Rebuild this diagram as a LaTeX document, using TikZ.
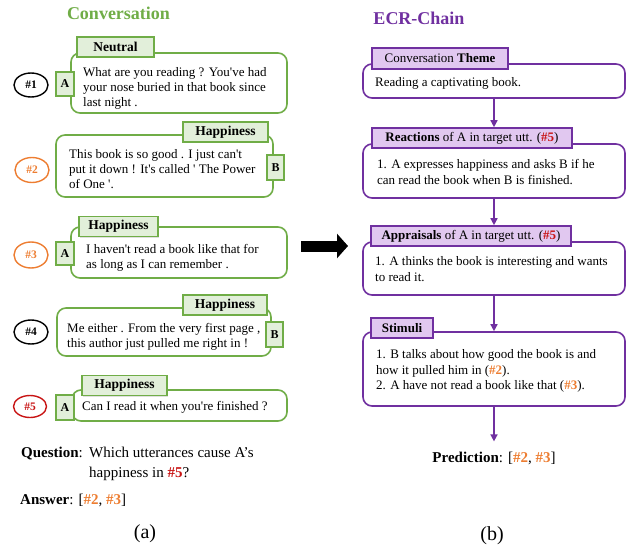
\documentclass[tikz,border=0pt]{standalone}
\usepackage{fontspec}
\setmainfont{Liberation Serif}
\usetikzlibrary{shapes.geometric,arrows.meta,shadows}
\definecolor{cgreen}{RGB}{112,173,71}
\definecolor{lgreen}{RGB}{226,239,218}
\definecolor{cpurple}{RGB}{112,48,160}
\definecolor{lpurple}{RGB}{225,200,240}
\definecolor{corange}{RGB}{237,125,49}
\definecolor{cred}{RGB}{200,20,20}
\newcommand{\sq}{\textquotesingle}
\newcommand{\ho}[1]{\textcolor{corange}{\textbf{\##1}}}
\newcommand{\hr}[1]{\textcolor{cred}{\textbf{\##1}}}
\begin{document}
\begin{tikzpicture}[x=1pt,y=-1pt,
  box/.style={rectangle, inner sep=0pt, line width=1.6pt},
  softshadow/.style={drop shadow={shadow xshift=1.2pt, shadow yshift=-1.2pt, opacity=0.25}},
  bubble/.style={box, draw=cgreen, fill=white, rounded corners=9pt},
  glabel/.style={box, draw=cgreen, fill=lgreen, softshadow, font=\fontsize{13.5}{15}\selectfont\bfseries},
  spk/.style={box, draw=cgreen, fill=lgreen, softshadow, font=\fontsize{12}{14}\selectfont\bfseries},
  num/.style={ellipse, inner sep=0pt, line width=1.4pt, minimum width=34pt, minimum height=24pt, font=\fontsize{11.5}{13}\selectfont\bfseries},
  txt/.style={anchor=north west, inner sep=0pt, align=left, font=\fontsize{13}{15}\selectfont},
  rtxt/.style={anchor=north west, inner sep=0pt, align=left, font=\fontsize{13}{15.7}\selectfont},
  pbox/.style={box, draw=cpurple, fill=white, rounded corners=9pt},
  plabel/.style={box, draw=cpurple, fill=lpurple, softshadow, font=\fontsize{13}{15}\selectfont},
  parrow/.style={draw=cpurple, line width=1.5pt, -{Triangle[length=7pt,width=7pt]}},
  titletxt/.style={anchor=base, inner sep=0pt, font=\fontsize{18}{20}\selectfont\bfseries},
  bigtxt/.style={anchor=base, inner sep=0pt, font=\fontsize{15}{20}\selectfont},
  captxt/.style={anchor=base, inner sep=0pt, font=\fontsize{20}{22}\selectfont}]
\useasboundingbox (0,0) rectangle (626,548);

% titles
\node[titletxt, text=cgreen] (t1) at (118.5,20) {Conversation};
\node[titletxt, text=cpurple] (t2) at (419,25) {ECR-Chain};

% left bubbles
\node[bubble, minimum width=216pt, minimum height=60pt] (b1) at (179,83) {};
\node[bubble, minimum width=217pt, minimum height=62pt] (b2) at (164.5,166) {};
\node[bubble, minimum width=216pt, minimum height=51pt] (b3) at (179,252.5) {};
\node[bubble, minimum width=214pt, minimum height=48pt] (b4) at (164,332) {};
\node[bubble, minimum width=215pt, minimum height=31pt] (b5) at (179.5,405.5) {};

% emotion labels
\node[glabel, minimum width=77pt, minimum height=20pt] (l1) at (115.5,47) {Neutral};
\node[glabel, minimum width=85pt, minimum height=20pt] (l2) at (225.5,132) {Happiness};
\node[glabel, minimum width=79pt, minimum height=20pt] (l3) at (118.5,226.5) {Happiness};
\node[glabel, minimum width=84pt, minimum height=20pt] (l4) at (225,305) {Happiness};
\node[glabel, minimum width=85pt, minimum height=20pt] (l5) at (124.5,385.5) {Happiness};

% speakers
\node[spk, minimum width=18pt, minimum height=24pt] (s1) at (65,84) {A};
\node[spk, minimum width=17pt, minimum height=25pt] (s2) at (275.5,167.5) {B};
\node[spk, minimum width=18pt, minimum height=23pt] (s3) at (65,253.5) {A};
\node[spk, minimum width=17pt, minimum height=25pt] (s4) at (274.5,334.5) {B};
\node[spk, minimum width=18pt, minimum height=25pt] (s5) at (65,407.5) {A};

% utterance numbers
\node[num, draw=black] (e1) at (31,85) {\#1};
\node[num, draw=corange, text=corange, minimum height=25pt] (e2) at (32,170) {\#2};
\node[num, draw=corange, text=corange, minimum height=26pt] (e3) at (31,255) {\#3};
\node[num, draw=black] (e4) at (31,332) {\#4};
\node[num, draw=cred, text=cred, minimum width=33pt, minimum height=22pt] (e5) at (30,406.5) {\#5};

% utterance texts
\node[txt] (u1) at (83,67.1) {What are you reading ? You\sq ve had\\your nose buried in that book since\\last night .};
\node[txt] (u2) at (69,149.1) {This book is so good . I just can\sq t\\put it down ! It\sq s called \sq\ The Power\\of One \sq .};
\node[txt] (u3) at (86,244.1) {I haven\sq t read a book like that for\\as long as I can remember .};
\node[txt] (u4) at (67,323.1) {Me either . From the very first page ,\\this author just pulled me right in !};
\node[txt] (u5) at (82,401.1) {Can I read it when you\sq re finished ?};

% question / answer
\node[bigtxt, anchor=base west] (q1) at (21,457) {\textbf{Question}:};
\node[bigtxt, anchor=north west, align=left] (q2) at (89,446.8) {Which utterances cause A’s\\happiness in \hr{5}?};
\node[bigtxt, anchor=base west] (ans) at (20,504) {\textbf{Answer}: [\ho{2}, \ho{3}]};
\node[captxt] (capa) at (145,538) {(a)};

% big arrow
\coordinate (bigS) at (301,246);
\coordinate (bigE) at (348,246);
\draw[line width=11pt, -{Triangle[length=11pt,width=24pt]}] (bigS) -- (bigE);

% right boxes
\node[pbox, minimum width=262pt, minimum height=34pt] (r1) at (494,81) {};
\node[pbox, minimum width=262pt, minimum height=54pt] (r2) at (494,171) {};
\node[pbox, minimum width=262pt, minimum height=53pt] (r3) at (494,268.5) {};
\node[pbox, minimum width=262pt, minimum height=74pt] (r4) at (494,369) {};

\node[plabel, minimum width=136pt, minimum height=21pt] (rl1) at (440,58.5) {Conversation \textbf{Theme}};
\node[plabel, minimum width=200pt, minimum height=20pt] (rl2) at (472,138) {\textbf{Reactions} of A in target utt. (\hr{5})};
\node[plabel, minimum width=200pt, minimum height=20pt] (rl3) at (471,236) {\textbf{Appraisals} of A in target utt. (\hr{5})};
\node[plabel, minimum width=62pt, minimum height=20pt] (rl4) at (402,328) {\textbf{Stimuli}};

\node[rtxt] (rt1) at (375,77.1) {Reading a captivating book.};
\node[rtxt] (rt2) at (377,159.1) {1. A expresses happiness and asks B if he\\can read the book when B is finished.};
\node[rtxt] (rt3) at (375,256.1) {1. A thinks the book is interesting and wants\\to read it.};
\node[rtxt] (rt4) at (376,349.1) {1. B talks about how good the book is and\\how it pulled him in (\ho{2}).\\2. A have not read a book like that (\ho{3}).};

\node[bigtxt] (pred) at (494,462) {\textbf{Prediction}: [\ho{2}, \ho{3}]};
\node[captxt] (capb) at (492,540) {(b)};

% chain arrows
\draw[parrow] (r1.south) -- (r1.south |- rl2.north);
\draw[parrow] (r2.south) -- (r2.south |- rl3.north);
\draw[parrow] (r3.south) -- (r4.north);
\draw[parrow, shorten >=10pt] (r4.south) -- (r4.south |- pred.north);
\end{tikzpicture}
\end{document}
